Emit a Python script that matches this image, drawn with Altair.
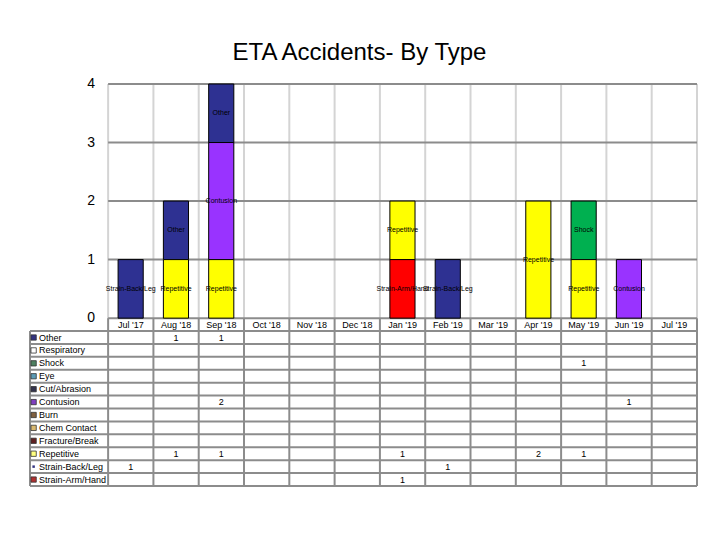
import altair as alt
import pandas as pd

months = ["Jul '17", "Aug '18", "Sep '18", "Oct '18", "Nov '18", "Dec '18",
          "Jan '19", "Feb '19", "Mar '19", "Apr '19", "May '19", "Jun '19", "Jul '19"]
types = ["Other", "Respiratory", "Shock", "Eye", "Cut/Abrasion", "Contusion", "Burn",
         "Chem Contact", "Fracture/Break", "Repetitive", "Strain-Back/Leg", "Strain-Arm/Hand"]
other = [0, 1, 1, 0, 0, 0, 0, 0, 0, 0, 0, 0, 0]
respiratory = [0] * 13
shock = [0, 0, 0, 0, 0, 0, 0, 0, 0, 0, 1, 0, 0]
eye = [0] * 13
cut_abrasion = [0] * 13
contusion = [0, 0, 2, 0, 0, 0, 0, 0, 0, 0, 0, 1, 0]
burn = [0] * 13
chem_contact = [0] * 13
fracture_break = [0] * 13
repetitive = [0, 1, 1, 0, 0, 0, 1, 0, 0, 2, 1, 0, 0]
strain_back_leg = [1, 0, 0, 0, 0, 0, 0, 1, 0, 0, 0, 0, 0]
strain_arm_hand = [0, 0, 0, 0, 0, 0, 1, 0, 0, 0, 0, 0, 0]
series = [other, respiratory, shock, eye, cut_abrasion, contusion, burn,
          chem_contact, fracture_break, repetitive, strain_back_leg, strain_arm_hand]
y_ticks = [0, 1, 2, 3, 4]

bar_palette = ["#2E3192", "#FFFFFF", "#00B050", "#5B9BB5", "#33334D", "#9933FF", "#806040",
               "#D8B870", "#602020", "#FFFF00", "#2E3192", "#FF0000"]
legend_palette = ["#333380", "#FFFFFF", "#4E8060", "#5B9BB5", "#33334D", "#8040C0", "#806040",
                  "#D8B870", "#602020", "#FFFF80", "#333380", "#B03030"]

ROW = 0.2206
XL = -1.7245
FONT = "Liberation Sans"
GRID_DARK = "#8c8c8c"
GRID_LIGHT = "#d4d4d4"

xs = alt.Scale(domain=[XL, 13], nice=False, zero=False)
ys = alt.Scale(domain=[-13 * ROW, 4], nice=False, zero=False)

bar_rows, cell_rows = [], []
for ti, t in enumerate(types):
    for mi, m in enumerate(months):
        c = series[ti][mi]
        if c:
            bar_rows.append(dict(month=m, mi=mi, type=t, tidx=ti, count=c, col=bar_palette[ti]))
            cell_rows.append(dict(mi=mi, tidx=ti, count=c))
bars_df = pd.DataFrame(bar_rows)
cells_df = pd.DataFrame(cell_rows)
types_df = pd.DataFrame(dict(type=types, tidx=list(range(len(types))), col=legend_palette))
months_df = pd.DataFrame(dict(month=months, mi=list(range(len(months)))))
bounds_df = pd.DataFrame(dict(b=list(range(len(months) + 1))))
ticks_df = pd.DataFrame(dict(v=y_ticks))
rows_df = pd.DataFrame(dict(k=list(range(1, len(types) + 2))))


def X(f):
    return alt.X(f, scale=xs, axis=None)


def Y(f):
    return alt.Y(f, scale=ys, axis=None)


vgrid = alt.Chart(bounds_df).transform_calculate(y0="0", y1="4").mark_rule(
    color=GRID_LIGHT, strokeWidth=2).encode(x=X("b:Q"), y=Y("y0:Q"), y2="y1:Q")
hgrid = alt.Chart(ticks_df).transform_calculate(x0="0", x1="13").mark_rule(
    color=GRID_DARK, strokeWidth=2).encode(y=Y("v:Q"), x=X("x0:Q"), x2="x1:Q")

stacked = alt.Chart(bars_df).transform_calculate(
    negidx="-datum.tidx"
).transform_stack(
    stack="count", groupby=["mi"], as_=["y0", "y1"],
    sort=[alt.SortField("negidx", order="ascending")]
).transform_calculate(
    xl="datum.mi + 0.22", xr="datum.mi + 0.775", xc="datum.mi + 0.5",
    ym="(datum.y0 + datum.y1) / 2")
bar_rect = stacked.mark_rect(stroke="black", strokeWidth=1).encode(
    x=X("xl:Q"), x2="xr:Q", y=Y("y0:Q"), y2="y1:Q",
    color=alt.Color("col:N", scale=None))
bar_text = stacked.mark_text(font=FONT, fontSize=7, color="black", baseline="middle").encode(
    x=X("xc:Q"), y=Y("ym:Q"), text="type:N")

ylabels = alt.Chart(ticks_df).transform_calculate(xp="-0.29").mark_text(
    font=FONT, fontSize=14, align="right", baseline="middle", color="black").encode(
    x=X("xp:Q"), y=Y("v:Q"), text="v:Q")

tvert = alt.Chart(bounds_df).transform_calculate(y0="0", y1=f"-13 * {ROW}").mark_rule(
    color=GRID_DARK, strokeWidth=2).encode(x=X("b:Q"), y=Y("y0:Q"), y2="y1:Q")
tleft = alt.Chart(pd.DataFrame(dict(b=[XL]))).transform_calculate(
    y0=f"-{ROW}", y1=f"-13 * {ROW}").mark_rule(
    color=GRID_DARK, strokeWidth=2).encode(x=X("b:Q"), y=Y("y0:Q"), y2="y1:Q")
thoriz = alt.Chart(rows_df).transform_calculate(
    yy=f"-datum.k * {ROW}", x0=f"{XL}", x1="13").mark_rule(
    color=GRID_DARK, strokeWidth=2).encode(y=Y("yy:Q"), x=X("x0:Q"), x2="x1:Q")

header = alt.Chart(months_df).transform_calculate(
    xc="datum.mi + 0.5", yc=f"-0.5 * {ROW}").mark_text(
    font=FONT, fontSize=9, baseline="middle", color="black").encode(
    x=X("xc:Q"), y=Y("yc:Q"), text="month:N")

cells = alt.Chart(cells_df).transform_calculate(
    xc="datum.mi + 0.5", yc=f"-(datum.tidx + 1.5) * {ROW}").mark_text(
    font=FONT, fontSize=9, baseline="middle", color="black").encode(
    x=X("xc:Q"), y=Y("yc:Q"), text="count:Q")

leg_base = alt.Chart(types_df).transform_calculate(
    xc=f"{XL} + 0.08", yc=f"-(datum.tidx + 1.5) * {ROW}")
leg_sq = leg_base.transform_filter("datum.type != 'Strain-Back/Leg'").mark_point(
    shape="square", filled=True, stroke="#333333", strokeWidth=0.8, size=28, opacity=1).encode(
    x=X("xc:Q"), y=Y("yc:Q"), fill=alt.Fill("col:N", scale=None))
leg_dot = leg_base.transform_filter("datum.type == 'Strain-Back/Leg'").mark_point(
    shape="square", filled=True, size=6, opacity=1).encode(
    x=X("xc:Q"), y=Y("yc:Q"), fill=alt.Fill("col:N", scale=None))
leg_txt = alt.Chart(types_df).transform_calculate(
    xc=f"{XL} + 0.2", yc=f"-(datum.tidx + 1.5) * {ROW}").mark_text(
    font=FONT, fontSize=9, align="left", baseline="middle", color="black").encode(
    x=X("xc:Q"), y=Y("yc:Q"), text="type:N")

chart = alt.layer(
    vgrid, hgrid, tvert, tleft, thoriz, bar_rect, bar_text, ylabels,
    header, cells, leg_sq, leg_dot, leg_txt
).properties(
    width=667, height=402,
    title=alt.TitleParams("ETA Accidents- By Type", font=FONT, fontSize=24,
                          fontWeight="normal", color="black", anchor="middle",
                          frame="group", offset=12, dx=-4),
    autosize=alt.AutoSizeParams(type="none"),
    padding={"left": 22, "top": 76, "right": 15, "bottom": 20},
).configure(
    background="white",
    view=alt.ViewConfig(stroke="transparent", strokeWidth=0),
)

chart.save("out.html", embed_options={"renderer": "svg", "actions": False})
